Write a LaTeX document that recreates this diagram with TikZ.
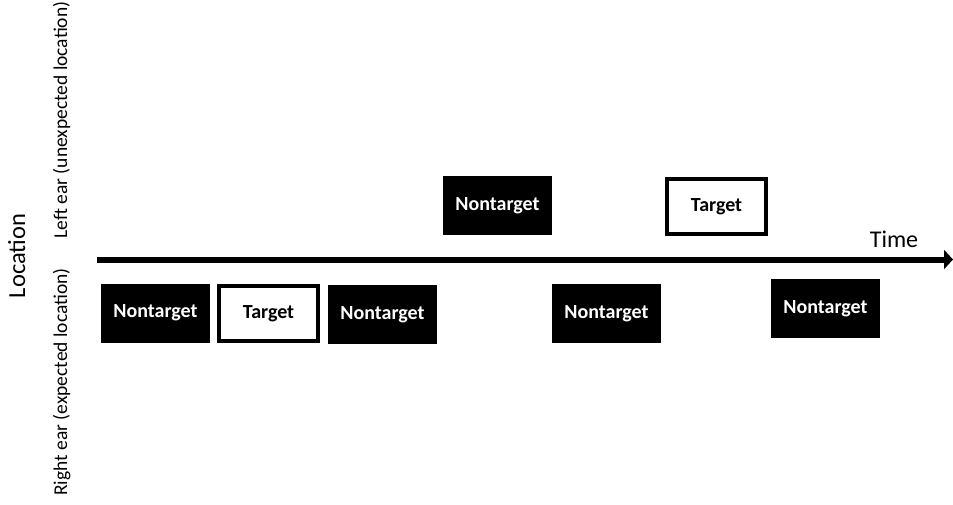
\documentclass[tikz,border=0pt]{standalone}
\usepackage{fontspec}
\setmainfont{Carlito}
\usetikzlibrary{arrows.meta}
\begin{document}
\begin{tikzpicture}[x=1pt,y=-1pt,
  nontarget/.style={fill=black,text=white,inner sep=0pt,minimum width=109pt,minimum height=59pt,font=\fontsize{20}{24}\selectfont\bfseries},
  targetbox/.style={draw=black,line width=4pt,fill=white,text=black,inner sep=0pt,minimum width=99pt,minimum height=55pt,font=\fontsize{20}{24}\selectfont\bfseries},
  side/.style={rotate=90,anchor=base,font=\fontsize{19.5}{22}\selectfont,inner sep=0pt},
  timeaxis/.style={line width=6pt,-{Triangle[length=9pt,width=19pt]}}]
\useasboundingbox (0,0) rectangle (953,504);
\coordinate (tstart) at (97,259.5);
\coordinate (tend) at (953,259.5);
\draw[timeaxis] (tstart) -- (tend);
\node[anchor=base] (time) at (894,247) {\fontsize{24}{28}\selectfont Time};
\node[rotate=90,anchor=base,font=\fontsize{24.5}{28}\selectfont,inner sep=0pt] (loc) at (25,256) {Location};
\node[side] (left) at (67,120) {Left ear (unexpected location)};
\node[side] (right) at (67,382) {Right ear (expected location)};
\node[nontarget] (n1) at (155.5,313) {Nontarget};
\node[targetbox] (t1) at (268.5,313.5) {Target};
\node[nontarget] (n2) at (382.5,314.5) {Nontarget};
\node[nontarget] (n3) at (497.5,205.5) {Nontarget};
\node[nontarget] (n4) at (606.5,313.5) {Nontarget};
\node[targetbox] (t2) at (716.5,206.5) {Target};
\node[nontarget] (n5) at (825.5,308.5) {Nontarget};
\end{tikzpicture}
\end{document}
